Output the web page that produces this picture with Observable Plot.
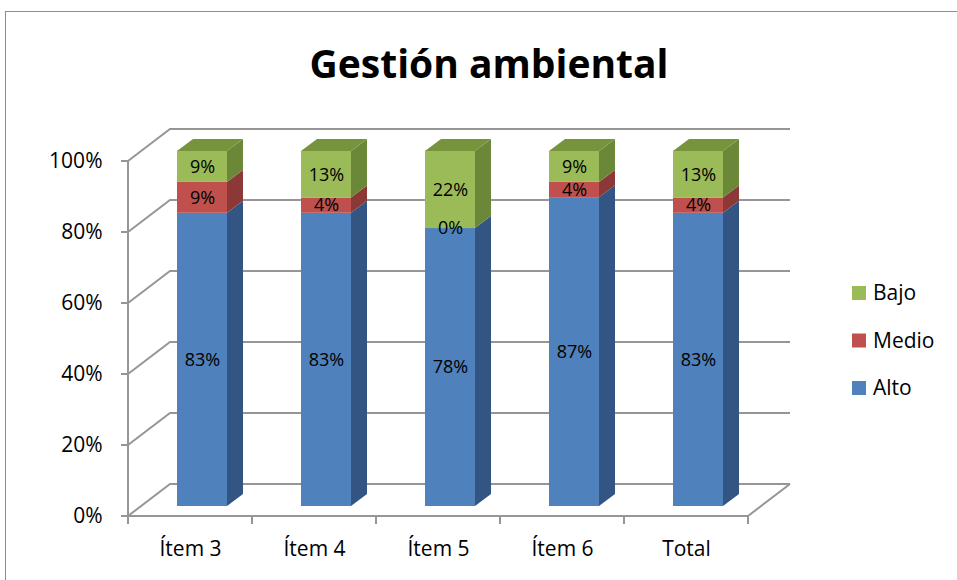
<!DOCTYPE html>
<html><head><meta charset="utf-8">
<script src="https://cdn.jsdelivr.net/npm/d3@7"></script>
<script src="https://cdn.jsdelivr.net/npm/@observablehq/plot@0.6"></script>
<style>
html,body{margin:0;padding:0;background:#fff;}
#wrap{position:relative;width:957px;height:580px;overflow:hidden;font-family:"Open Sans",sans-serif;}
#border{position:absolute;left:5px;top:11px;width:2000px;height:2000px;border-left:1.5px solid #8c8c8c;border-top:1.5px solid #8c8c8c;pointer-events:none;}
#title{position:absolute;left:0;top:35px;width:978px;text-align:center;font-size:39px;font-weight:700;color:#000;line-height:56px;}
#chart{position:absolute;left:0;top:0;}
</style></head><body>
<div id="wrap"><div id="border"></div><div id="title">Gestión ambiental</div><div id="chart"></div></div>
<script>
// ---- data ----
const categories = ["Ítem 3", "Ítem 4", "Ítem 5", "Ítem 6", "Total"];
const series = ["Alto", "Medio", "Bajo"];
const alto  = [82.6, 82.6, 78.3, 87.0, 82.6];
const medio = [8.7, 4.3, 0.0, 4.3, 4.3];
const bajo  = [8.7, 13.1, 21.7, 8.7, 13.1];
const yTicks = [0, 20, 40, 60, 80, 100];
const legendOrder = ["Bajo", "Medio", "Alto"];

// ---- styles ----
const frontColors = {Alto: "#4f81bd", Medio: "#c0504d", Bajo: "#9bbb59"};
const sideColors  = {Alto: "#325584", Medio: "#8c3836", Bajo: "#6b8838"};
const topColor = "#77933c";
const gridColor = "#969696";
const G = {backDx: 42, backDy: -32, barDx: 12, barDy: -10, depthDx: 16, depthDy: -12, inset: 37};

const seriesValues = {Alto: alto, Medio: medio, Bajo: bajo};
const data = categories.flatMap((c, i) => series.map(s => ({cat: c, series: s, value: seriesValues[s][i]})));

function walls(index, scales, values, dims) {
  const y = scales.y;
  const x0 = dims.marginLeft, x1 = dims.width - dims.marginRight;
  const y0 = y(0);
  const g = d3.create("svg:g").attr("fill", "none").attr("stroke", gridColor).attr("stroke-width", 2);
  for (const t of yTicks) {
    const yy = y(t);
    g.append("path").attr("d", `M${x0},${yy}L${x0 + G.backDx},${yy + G.backDy}L${x1 + G.backDx},${yy + G.backDy}`);
  }
  g.append("path").attr("d", `M${x0},${y0}L${x1},${y0}L${x1 + G.backDx},${y0 + G.backDy}`);
  g.append("path").attr("d", `M${x0},${y(100)}L${x0},${y0}`);
  for (const t of yTicks) g.append("path").attr("d", `M${x0 - 7},${y(t)}H${x0}`);
  for (const c of categories) g.append("path").attr("d", `M${scales.x(c)},${y0}V${y0 + 8}`);
  g.append("path").attr("d", `M${x1},${y0}V${y0 + 8}`);
  return g.node();
}

function sideFaces(index, scales, values, dims) {
  const bw = scales.x.bandwidth();
  const g = d3.create("svg:g");
  const topSeries = series[series.length - 1];
  for (const i of index) {
    const d = data[i];
    const left = values.x[i] + G.inset + G.barDx;
    const right = values.x[i] + bw - G.inset + G.barDx;
    const yt = Math.min(values.y1[i], values.y2[i]) + G.barDy;
    const yb = Math.max(values.y1[i], values.y2[i]) + G.barDy;
    g.append("path")
      .attr("fill", sideColors[d.series])
      .attr("d", `M${right},${yt}L${right + G.depthDx},${yt + G.depthDy}L${right + G.depthDx},${yb + G.depthDy}L${right},${yb}Z`);
    if (d.series === topSeries) {
      g.append("path")
        .attr("fill", topColor)
        .attr("d", `M${left},${yt}L${left + G.depthDx},${yt + G.depthDy}L${right + G.depthDx},${yt + G.depthDy}L${right},${yt}Z`);
    }
  }
  return g.node();
}

function legend(index, scales, values, dims) {
  const g = d3.create("svg:g").attr("text-anchor", "start");
  legendOrder.forEach((s, k) => {
    const cy = 293 + k * 47.5;
    g.append("rect").attr("x", 852).attr("y", cy - 7).attr("width", 14).attr("height", 14).attr("fill", frontColors[s]);
    g.append("text").attr("x", 873).attr("y", cy).attr("dy", "0.35em").attr("font-size", 21).attr("fill", "#000").text(s);
  });
  return g.node();
}

const plot = Plot.plot({
  width: 957,
  height: 580,
  marginLeft: 128,
  marginRight: 209,
  marginTop: 161,
  marginBottom: 64,
  style: {fontFamily: "Open Sans", background: "transparent", color: "#000", overflow: "visible"},
  x: {domain: categories, padding: 0, axis: null, label: null},
  y: {domain: [0, 100], axis: null, label: null},
  color: {domain: series, range: series.map(s => frontColors[s])},
  marks: [
    walls,
    Plot.axisY({ticks: yTicks, tickFormat: d => d + "%", tickSize: 0, tickPadding: 26, fontSize: 21, stroke: null, label: null}),
    Plot.axisX({tickSize: 0, tickPadding: 25, fontSize: 21, label: null}),
    Plot.barY(data, Plot.stackY({x: "cat", y: "value", render: sideFaces})),
    Plot.barY(data, Plot.stackY({x: "cat", y: "value", fill: "series", insetLeft: G.inset, insetRight: G.inset, dx: G.barDx, dy: G.barDy})),
    Plot.text(data, Plot.stackY({x: "cat", y: "value", text: d => Math.round(d.value) + "%", dx: G.barDx, dy: G.barDy, fontSize: 18, fill: "#000"})),
    legend
  ]
});
document.getElementById("chart").appendChild(plot);
</script>
</body></html>
